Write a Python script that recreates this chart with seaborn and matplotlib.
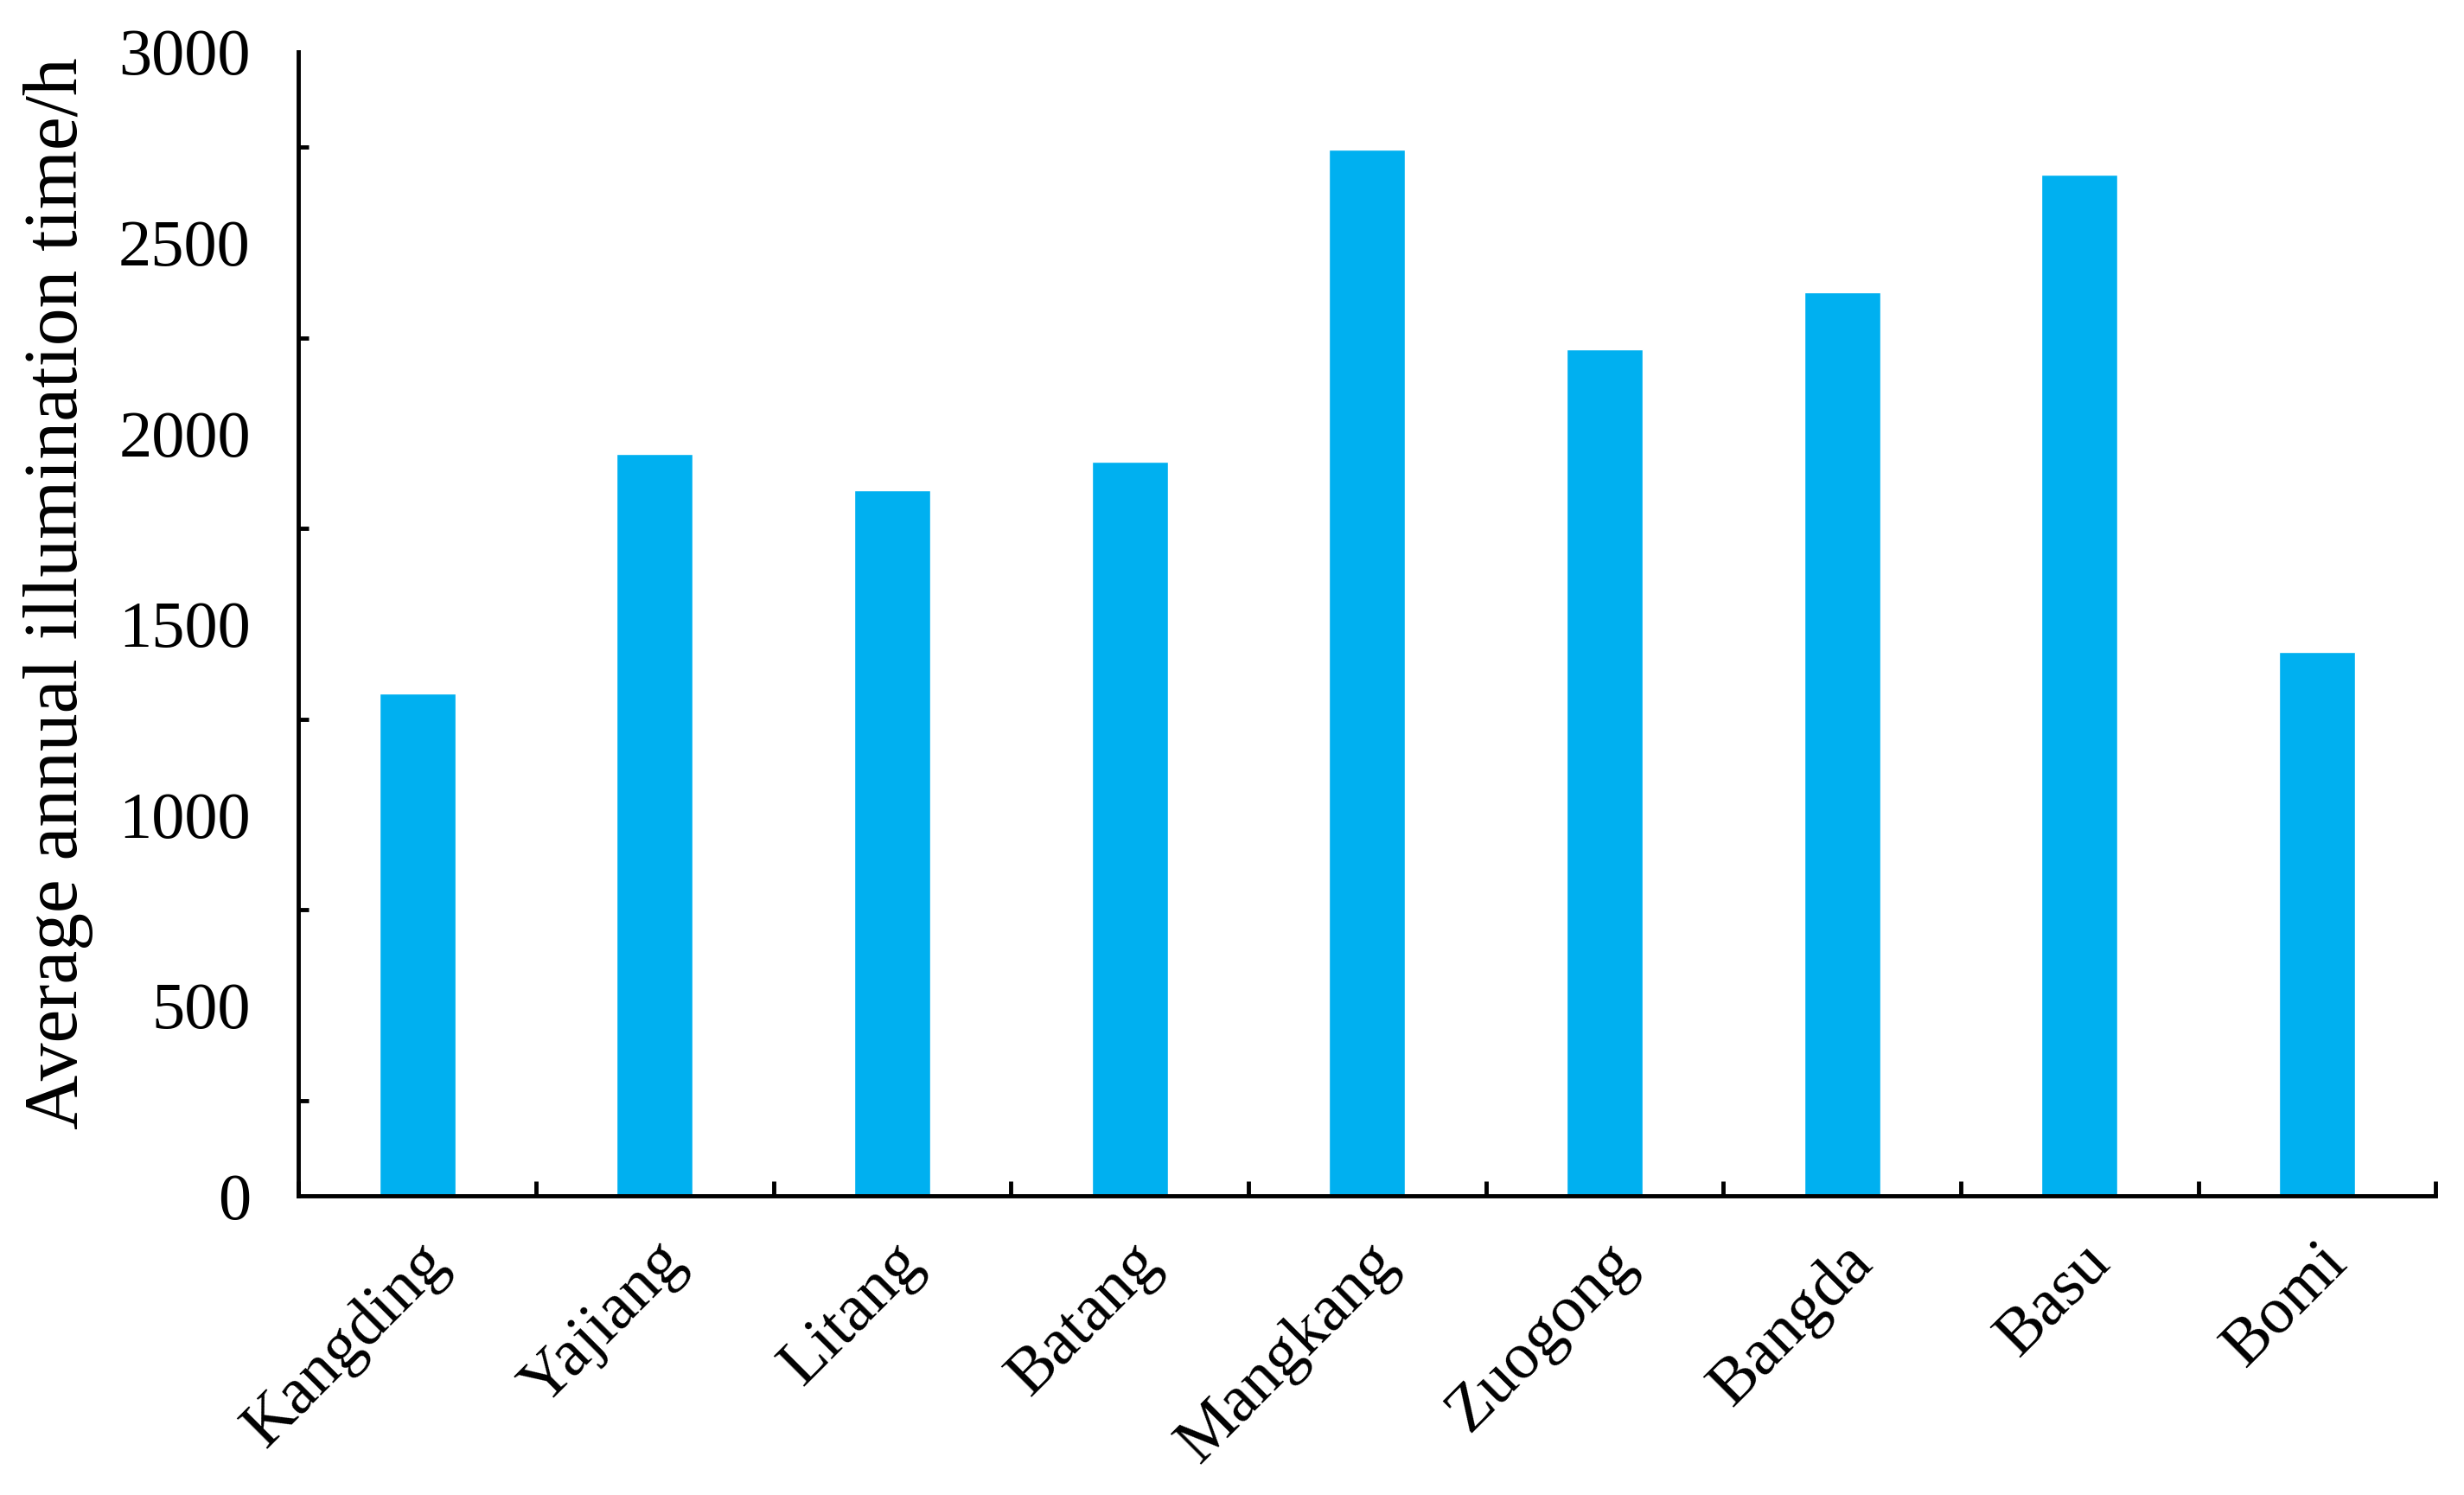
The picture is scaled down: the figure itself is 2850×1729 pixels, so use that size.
import matplotlib
matplotlib.use("Agg")
import matplotlib.pyplot as plt
import seaborn as sns
import pandas as pd
import numpy as np

# station names and average annual illumination time (h)
stations = ["Kangding", "Yajiang", "Litang", "Batang", "Mangkang",
            "Zuogong", "Bangda", "Basu", "Bomi"]
hours = [1318, 1945, 1850, 1925, 2744, 2219, 2370, 2678, 1426]

df = pd.DataFrame({"station": stations, "hours": hours})

sns.set_style("white")
plt.rcParams["font.family"] = ["Liberation Serif", "DejaVu Serif"]
plt.rcParams["text.color"] = "black"
plt.rcParams["axes.labelcolor"] = "black"
plt.rcParams["xtick.color"] = "black"
plt.rcParams["ytick.color"] = "black"

fig = plt.figure(figsize=(28.5, 17.29), dpi=100)
ax = fig.add_axes([0.1212, 0.2, 0.8673, 0.7653])

sns.barplot(data=df, x="station", y="hours", color="#00B0F0",
            width=0.32, saturation=1, ax=ax)

ax.set_xlim(-0.5, 8.5)
ax.set_ylim(0, 3000)
ax.set_yticks(np.arange(0, 3001, 500))
ax.set_yticks(np.arange(0, 3001, 250), minor=True)
ax.set_xticks(np.arange(-0.5, 8.6, 1.0), minor=True)

ax.set_xticks(range(len(stations)))
ax.set_xticklabels(stations, rotation=45, ha="right", rotation_mode="anchor")

ax.tick_params(axis="both", which="major", direction="in", length=12,
               width=3.5, labelsize=55, color="black")
ax.tick_params(axis="y", which="minor", direction="in", length=8.5, width=3.5,
               left=True)
ax.tick_params(axis="x", which="major", length=8.5, pad=30)
ax.tick_params(axis="x", which="minor", direction="in", length=12, width=3.5,
               bottom=True)
ax.tick_params(axis="y", which="major", pad=40)

for side in ["top", "right"]:
    ax.spines[side].set_visible(False)
for side in ["left", "bottom"]:
    ax.spines[side].set_linewidth(3.5)
    ax.spines[side].set_color("black")

ax.set_xlabel("")
ax.set_ylabel("Average annual illumination time/h", fontsize=63)
ax.yaxis.set_label_coords(-0.096, 0.527)

fig.savefig("out.png", dpi=100)
